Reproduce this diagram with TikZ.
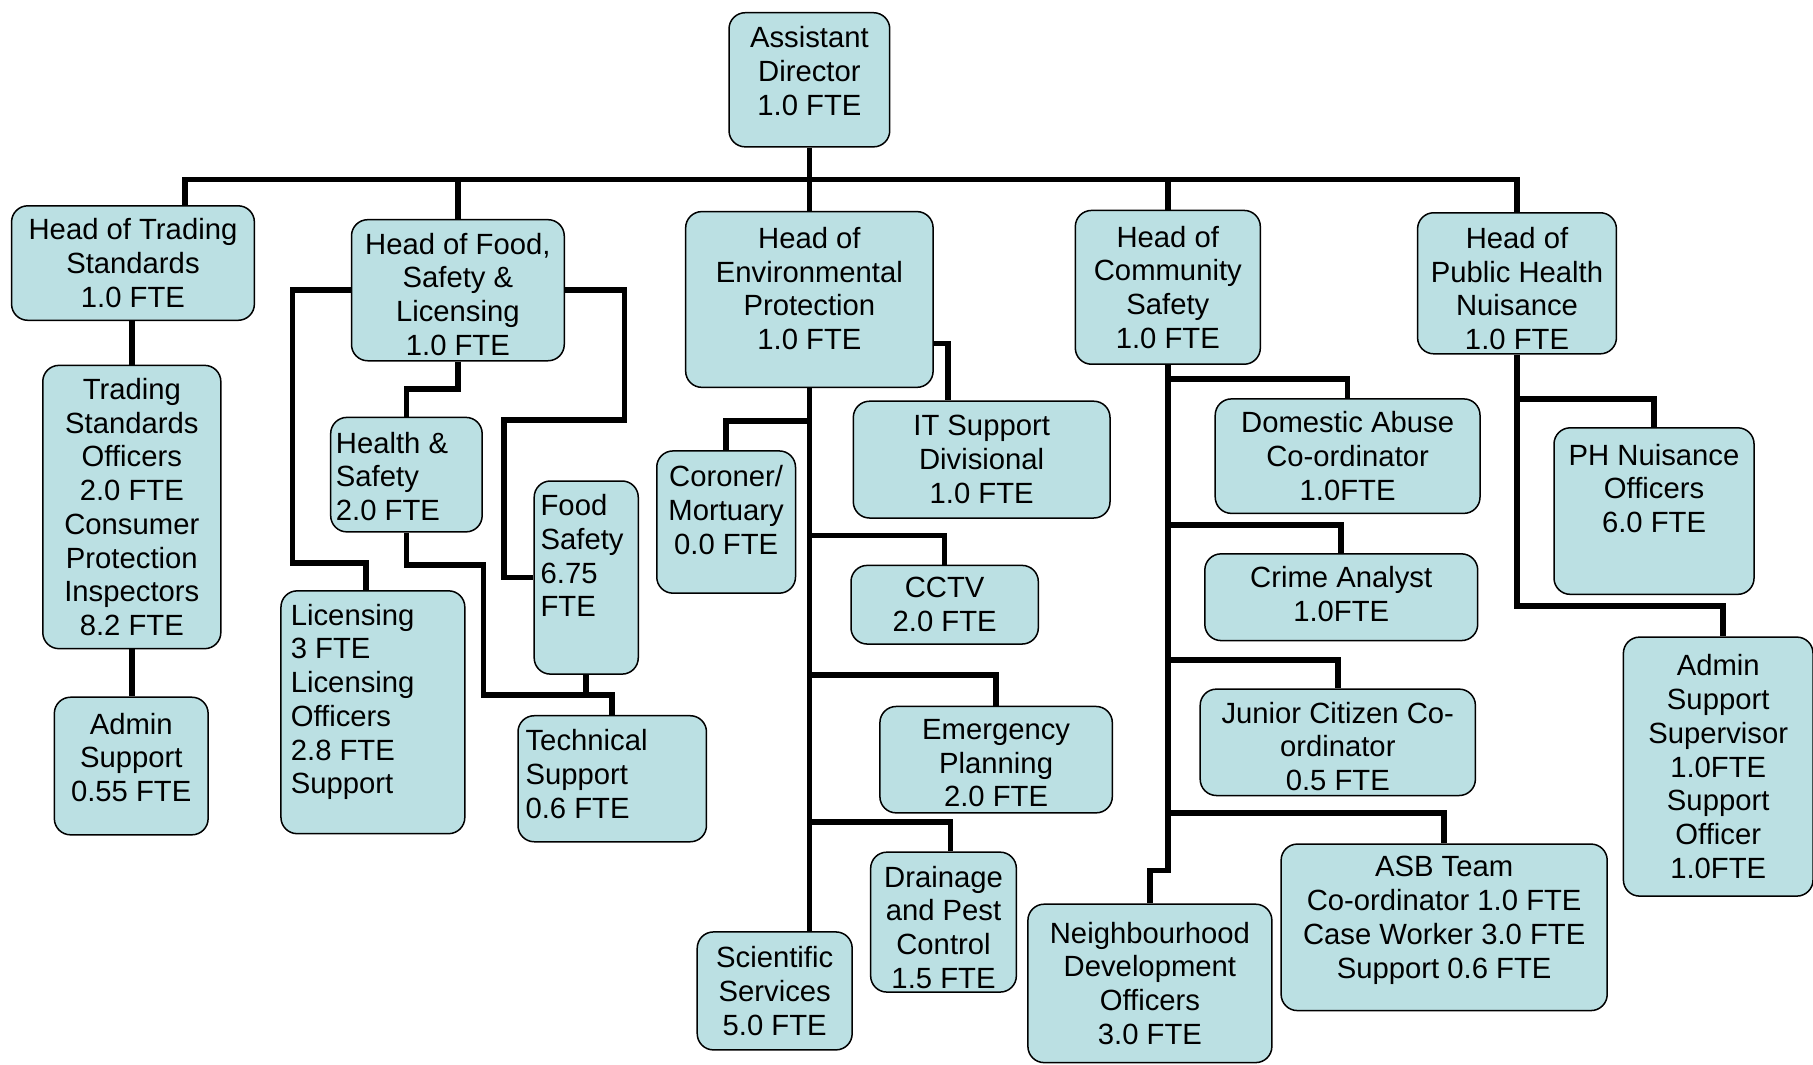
\documentclass[tikz,border=0pt]{standalone}
\usepackage{fontspec}
\setmainfont{Liberation Sans}
\definecolor{boxfill}{HTML}{BBE0E3}
\tikzstyle{unit} = [draw,fill=boxfill,rounded corners=14pt,align=center,inner sep=0,line width=1.3pt,font=\fontsize{25.3}{29.2}\selectfont]
\tikzstyle{lab} = [align=center,inner sep=0,font=\fontsize{25.3}{29.2}\selectfont]
\tikzstyle{link} = [line width=4.8pt]

\begin{document}
\begin{tikzpicture}[x=1pt,y=-1pt]
    \useasboundingbox (0,0) rectangle (1568,921);

    \node [unit,minimum width=139,minimum height=116,label={[lab,yshift=7.5pt]center:{Assistant\\Director\\1.0 FTE}}] (ad) at (700,69) {};

    \node [unit,minimum width=210,minimum height=99] (h1) at (115,227.5) {Head of Trading\\Standards\\1.0 FTE};
    \node [unit,minimum width=184,minimum height=122,label={[lab,yshift=-3.5pt]center:{Head of Food,\\Safety \&\\Licensing\\1.0 FTE}}] (h2) at (396,251) {};
    \node [unit,minimum width=214,minimum height=152,label={[lab,yshift=9.5pt]center:{Head of\\Environmental\\Protection\\1.0 FTE}}] (h3) at (700,259) {};
    \node [unit,minimum width=160,minimum height=133] (h4) at (1010,248.5) {Head of\\Community\\Safety\\1.0 FTE};
    \node [unit,minimum width=172,minimum height=122,label={[lab,yshift=-4.5pt]center:{Head of\\Public Health\\Nuisance\\1.0 FTE}}] (h5) at (1312,245) {};

    \node [unit,minimum width=154,minimum height=245] (t1) at (114,438.5) {Trading\\Standards\\Officers\\2.0 FTE\\Consumer\\Protection\\Inspectors\\8.2 FTE};
    \node [unit,minimum width=133,minimum height=119,label={[lab,yshift=7.5pt]center:{Admin\\Support\\0.55 FTE}}] (t2) at (113.5,662.5) {};

    \node [unit,minimum width=159,minimum height=210,label={[lab,align=left,anchor=west,xshift=9pt,yshift=9pt]west:{Licensing\\3 FTE\\Licensing\\Officers\\2.8 FTE\\Support}}] (f1) at (322.5,616) {};
    \node [unit,minimum width=131,minimum height=99,label={[lab,align=left,anchor=west,xshift=5pt,yshift=-1.5pt]west:{Health \&\\Safety\\2.0 FTE}}] (f2) at (351.5,410.5) {};
    \node [unit,minimum width=90,minimum height=167,label={[lab,align=left,anchor=west,xshift=6pt,yshift=19pt]west:{Food\\Safety\\6.75\\FTE}}] (f3) at (507,499.5) {};
    \node [unit,minimum width=163,minimum height=109,label={[lab,align=left,anchor=west,xshift=7pt,yshift=4pt]west:{Technical\\Support\\0.6 FTE}}] (f4) at (529.5,673.5) {};

    \node [unit,minimum width=120,minimum height=123,label={[lab,yshift=10.5pt]center:{Coroner/\\Mortuary\\0.0 FTE}}] (e1) at (628,451.5) {};
    \node [unit,minimum width=222,minimum height=101] (e2) at (849,397.5) {IT Support\\Divisional\\1.0 FTE};
    \node [unit,minimum width=162,minimum height=68] (e3) at (817,523) {CCTV\\2.0 FTE};
    \node [unit,minimum width=201,minimum height=92,label={[lab,yshift=-3pt]center:{Emergency\\Planning\\2.0 FTE}}] (e4) at (861.5,657) {};
    \node [unit,minimum width=126,minimum height=121,label={[lab,yshift=-4.5pt]center:{Drainage\\and Pest\\Control\\1.5 FTE}}] (e5) at (816,797.5) {};
    \node [unit,minimum width=134,minimum height=102] (e6) at (670,857) {Scientific\\Services\\5.0 FTE};

    \node [unit,minimum width=229,minimum height=99] (c1) at (1165.5,394.5) {Domestic Abuse\\Co-ordinator\\1.0FTE};
    \node [unit,minimum width=236,minimum height=75,label={[lab,yshift=3pt]center:{Crime Analyst\\1.0FTE}}] (c2) at (1160,516.5) {};
    \node [unit,minimum width=238,minimum height=92,label={[lab,yshift=-3.5pt]center:{Junior Citizen Co-\\ordinator\\0.5 FTE}}] (c3) at (1157,642) {};
    \node [unit,minimum width=282,minimum height=144,label={[lab,yshift=6pt]center:{ASB Team\\Co-ordinator 1.0 FTE\\Case Worker 3.0 FTE\\Support 0.6 FTE}}] (c4) at (1249,802) {};
    \node [unit,minimum width=211,minimum height=137] (c5) at (994.5,850.5) {Neighbourhood\\Development\\Officers\\3.0 FTE};

    \node [unit,minimum width=173,minimum height=144,label={[lab,yshift=19.5pt]center:{PH Nuisance\\Officers\\6.0 FTE}}] (p1) at (1430.5,442) {};
    \node [unit,minimum width=164,minimum height=224] (p2) at (1486,663) {Admin\\Support\\Supervisor\\1.0FTE\\Support\\Officer\\1.0FTE};

    \draw [link] (ad) -- (ad.south |- 0,156);
    \draw [link] ([xshift=45pt]h1.north) -- ++(0,-22) -| (h5.north);
    \draw [link] (h2.north) -- (h2.north |- 0,156);
    \draw [link] (h3.north) -- (h3.north |- 0,156);
    \draw [link] (h4.north) -- (h4.north |- 0,156);

    \draw [link] (h1.south -| t1.north) -- (t1.north);
    \draw [link] (t1.south) -- (t1.south |- t2.north);

    \draw [link] (h2.west) -| (253,487) -| ([xshift=-6pt]f1.north);
    \draw [link] (h2.south) -- ++(0,24) -| (f2.north);
    \draw [link] (h2.east) -| (540,363) -| (436,499.5) -- (f3.west);
    \draw [link] (f2.south) -- ++(0,28) -| (418,601) -| (f4.north);
    \draw [link] (f3.south) -- (f3.south |- 0,601);

    \draw [link] (h3.south) -- (h3.south |- e6.north);
    \draw [link] (h3.south |- 0,364) -| (e1.north);
    \draw [link] (h3.east |- 0,297) -| ([xshift=-29pt]e2.north);
    \draw [link] (h3.south |- 0,463) -| (e3.north);
    \draw [link] (h3.south |- 0,584) -| (e4.north);
    \draw [link] (h3.south |- 0,711) -| ([xshift=6pt]e5.north);

    \draw [link] (h4.south) -- (h4.south |- 0,753) -| (c5.north);
    \draw [link] (h4.south |- 0,328) -| (c1.north);
    \draw [link] (h4.south |- 0,454) -| (c2.north);
    \draw [link] (h4.south |- 0,571) -| (c3.north);
    \draw [link] (h4.south |- 0,703) -| (c4.north);

    \draw [link] (h5.south) -- (h5.south |- 0,524) -| ([xshift=4pt]p2.north);
    \draw [link] (h5.south |- 0,345) -| (p1.north);
  \end{tikzpicture}
\end{document}
